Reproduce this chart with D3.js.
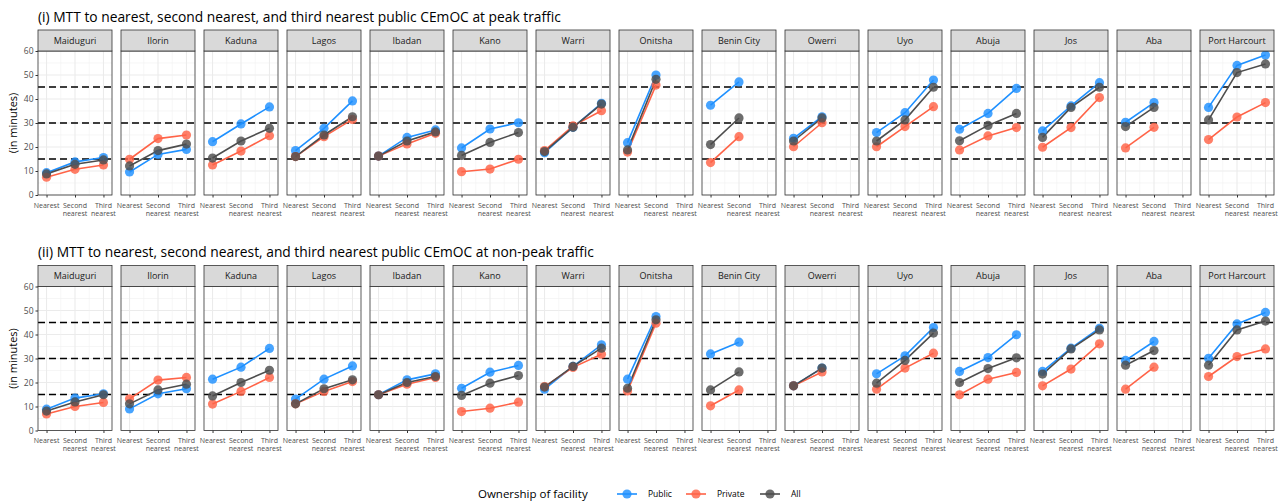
<!DOCTYPE html>
<html><head><meta charset="utf-8">
<script src="https://cdn.jsdelivr.net/npm/d3@7"></script>
<style>body{margin:0;background:#fff}svg{display:block}</style>
</head><body>
<script>
const cities = ["Maiduguri","Ilorin","Kaduna","Lagos","Ibadan","Kano","Warri","Onitsha","Benin City","Owerri","Uyo","Abuja","Jos","Aba","Port Harcourt"];
const categories = ["Nearest","Second nearest","Third nearest"];
const seriesNames = ["Public","Private","All"];
const seriesColors = ["#1E90FF","#FF6347","#4D4D4D"];
const yTicks = [0,10,20,30,40,50,60];
const thresholds = [15,30,45];
const titles = ["(i) MTT to nearest, second nearest, and third nearest public CEmOC at peak traffic",
                "(ii) MTT to nearest, second nearest, and third nearest public CEmOC at non-peak traffic"];

const peakPublic = [[9.3,13.8,15.6],[9.6,16.9,19.0],[22.2,29.6,36.7],[18.5,27.8,39.2],[16.2,24.0,27.1],[19.6,27.5,30.1],[17.6,28.2,38.2],[21.8,50.0,null],[37.4,47.1,null],[23.6,32.6,null],[26.0,34.3,47.9],[27.4,34.0,44.4],[26.7,37.1,46.8],[30.3,38.5,null],[36.5,54.0,58.3]];
const peakPrivate = [[7.4,10.7,12.5],[14.9,23.5,25.0],[12.5,18.3,24.7],[16.0,24.3,31.5],[16.2,21.3,25.7],[9.7,10.8,14.9],[18.5,28.8,35.1],[17.9,45.8,null],[13.5,24.3,null],[20.1,30.1,null],[20.1,28.5,36.8],[18.8,24.6,28.1],[19.9,28.1,40.6],[19.6,28.2,null],[23.1,32.5,38.5]];
const peakAll = [[8.8,12.8,14.6],[12.1,18.5,21.2],[15.4,22.5,27.8],[16.0,25.0,32.6],[16.2,22.5,26.3],[16.5,21.9,26.0],[18.1,28.2,37.9],[18.8,48.2,null],[21.0,32.1,null],[22.5,32.1,null],[22.5,31.3,44.9],[22.6,29.0,34.0],[24.0,36.5,44.9],[28.5,36.5,null],[31.3,51.0,54.6]];
const offPublic = [[8.9,13.5,15.3],[9.0,15.3,17.4],[21.4,26.4,34.2],[13.1,21.4,26.9],[14.9,21.1,23.6],[17.6,24.3,27.1],[17.2,26.7,35.7],[21.4,47.5,null],[31.9,36.8,null],[18.6,26.0,null],[23.6,31.1,42.9],[24.6,30.4,39.9],[24.6,34.3,42.6],[29.2,37.1,null],[30.1,44.4,49.2]];
const offPrivate = [[6.9,10.0,11.7],[13.2,21.0,22.1],[11.0,16.3,22.1],[11.1,16.3,20.4],[14.9,19.3,22.1],[7.9,9.3,11.8],[18.3,26.3,31.8],[16.5,44.7,null],[10.3,16.9,null],[18.6,24.4,null],[17.2,26.0,32.2],[14.9,21.4,24.2],[18.6,25.6,36.1],[17.2,26.4,null],[22.5,30.8,34.0]];
const offAll = [[8.1,11.9,14.9],[11.1,16.9,19.3],[14.4,20.0,25.1],[11.1,17.4,21.1],[14.9,20.0,22.5],[14.6,19.7,22.9],[18.1,26.7,34.3],[17.6,46.1,null],[16.9,24.4,null],[18.6,26.0,null],[19.7,29.2,40.6],[20.0,25.8,30.3],[23.5,34.0,41.9],[27.2,33.3,null],[27.2,41.9,45.6]];

const rows = [
  {title: titles[0], series:[peakPublic, peakPrivate, peakAll], titleY:21.5, stripTop:30, top:51, bottom:195},
  {title: titles[1], series:[offPublic, offPrivate, offAll], titleY:257, stripTop:265.5, top:286.5, bottom:430.5}
];

const W=1284,H=503;
const svg=d3.select("body").append("svg").attr("width",W).attr("height",H).style("font-family","'Open Sans','Noto Sans',sans-serif");
const panelX0=38, panelW=74, panelStep=83;
const x=d3.scalePoint().domain(categories).range([0,panelW]).padding(0.3);
const line=d3.line().defined(d=>d.v!=null).x(d=>x(d.c)).y(d=>d.y);

rows.forEach(r=>{
  const y=d3.scaleLinear().domain([0,60]).range([r.bottom,r.top]);
  svg.append("text").attr("x",panelX0).attr("y",r.titleY).attr("font-size",13.8).attr("fill","#000").text(r.title);
  svg.append("text").attr("transform",`translate(17,${(r.top+r.bottom)/2}) rotate(-90)`).attr("text-anchor","middle").attr("font-size",11).attr("fill","#000").text("(in minutes)");
  const ya=svg.append("g").attr("transform",`translate(${panelX0},0)`).call(d3.axisLeft(y).tickValues(yTicks).tickSize(2.5).tickPadding(2));
  ya.select(".domain").remove();
  ya.selectAll("line").attr("stroke","#333");
  ya.selectAll("text").attr("font-size",8.5).attr("fill","#4d4d4d").attr("font-family","'Open Sans',sans-serif");

  cities.forEach((city,i)=>{
    const px=panelX0+i*panelStep;
    const g=svg.append("g").attr("transform",`translate(${px},0)`);
    d3.range(5,60,10).forEach(v=>g.append("line").attr("x1",0).attr("x2",panelW).attr("y1",y(v)).attr("y2",y(v)).attr("stroke","#f0f0f0").attr("stroke-width",0.6));
    yTicks.forEach(v=>g.append("line").attr("x1",0).attr("x2",panelW).attr("y1",y(v)).attr("y2",y(v)).attr("stroke","#ebebeb").attr("stroke-width",1.1));
    const step=x.step();
    [0,1].forEach(k=>{const mx=x(categories[k])+step/2;g.append("line").attr("x1",mx).attr("x2",mx).attr("y1",r.top).attr("y2",r.bottom).attr("stroke","#f0f0f0").attr("stroke-width",0.6);});
    categories.forEach(c=>g.append("line").attr("x1",x(c)).attr("x2",x(c)).attr("y1",r.top).attr("y2",r.bottom).attr("stroke","#ebebeb").attr("stroke-width",1.1));
    thresholds.forEach(v=>g.append("line").attr("x1",0).attr("x2",panelW).attr("y1",y(v)).attr("y2",y(v)).attr("stroke","#000").attr("stroke-width",1.6).attr("stroke-dasharray","7,4"));
    r.series.forEach((s,si)=>{
      const pts=categories.map((c,k)=>({c,v:s[i][k],y:s[i][k]==null?0:y(s[i][k])}));
      g.append("path").attr("d",line(pts)).attr("fill","none").attr("stroke",seriesColors[si]).attr("stroke-width",1.6);
    });
    r.series.forEach((s,si)=>{
      categories.forEach((c,k)=>{
        const v=s[i][k]; if(v==null) return;
        g.append("circle").attr("cx",x(c)).attr("cy",y(v)).attr("r",4.6).attr("fill",seriesColors[si]).attr("fill-opacity",0.82);
      });
    });
    g.append("rect").attr("x",0).attr("y",r.top).attr("width",panelW).attr("height",r.bottom-r.top).attr("fill","none").attr("stroke","#333").attr("stroke-width",0.8);
    g.append("rect").attr("x",0).attr("y",r.stripTop).attr("width",panelW).attr("height",r.top-r.stripTop).attr("fill","#d9d9d9").attr("stroke","#333").attr("stroke-width",0.8);
    g.append("text").attr("x",panelW/2).attr("y",(r.stripTop+r.top)/2+3.2).attr("text-anchor","middle").attr("font-size",9).attr("fill","#1a1a1a").text(city);
    const xa=g.append("g").attr("transform",`translate(0,${r.bottom})`).call(d3.axisBottom(x).tickSize(2.5).tickFormat(""));
    xa.select(".domain").remove();
    xa.selectAll("line").attr("stroke","#333");
    categories.forEach(c=>{
      const parts=c.split(" ");
      const t=g.append("text").attr("text-anchor","middle").attr("font-size",7).attr("fill","#4d4d4d");
      parts.forEach((p,pi)=>t.append("tspan").attr("x",x(c)).attr("y",r.bottom+12.5+pi*8).text(p));
    });
  });
});

const ly=494;
svg.append("text").attr("x",478).attr("y",ly+4).attr("font-size",11.5).attr("fill","#000").text("Ownership of facility");
const legX=[627,696,770];
seriesNames.forEach((n,i)=>{
  const lx=legX[i];
  svg.append("line").attr("x1",lx-10).attr("x2",lx+10).attr("y1",ly).attr("y2",ly).attr("stroke",seriesColors[i]).attr("stroke-width",1.6);
  svg.append("circle").attr("cx",lx).attr("cy",ly).attr("r",4.6).attr("fill",seriesColors[i]).attr("fill-opacity",0.82);
  svg.append("text").attr("x",lx+21).attr("y",ly+3).attr("font-size",8.5).attr("fill","#000").text(n);
});
</script>
</body></html>
